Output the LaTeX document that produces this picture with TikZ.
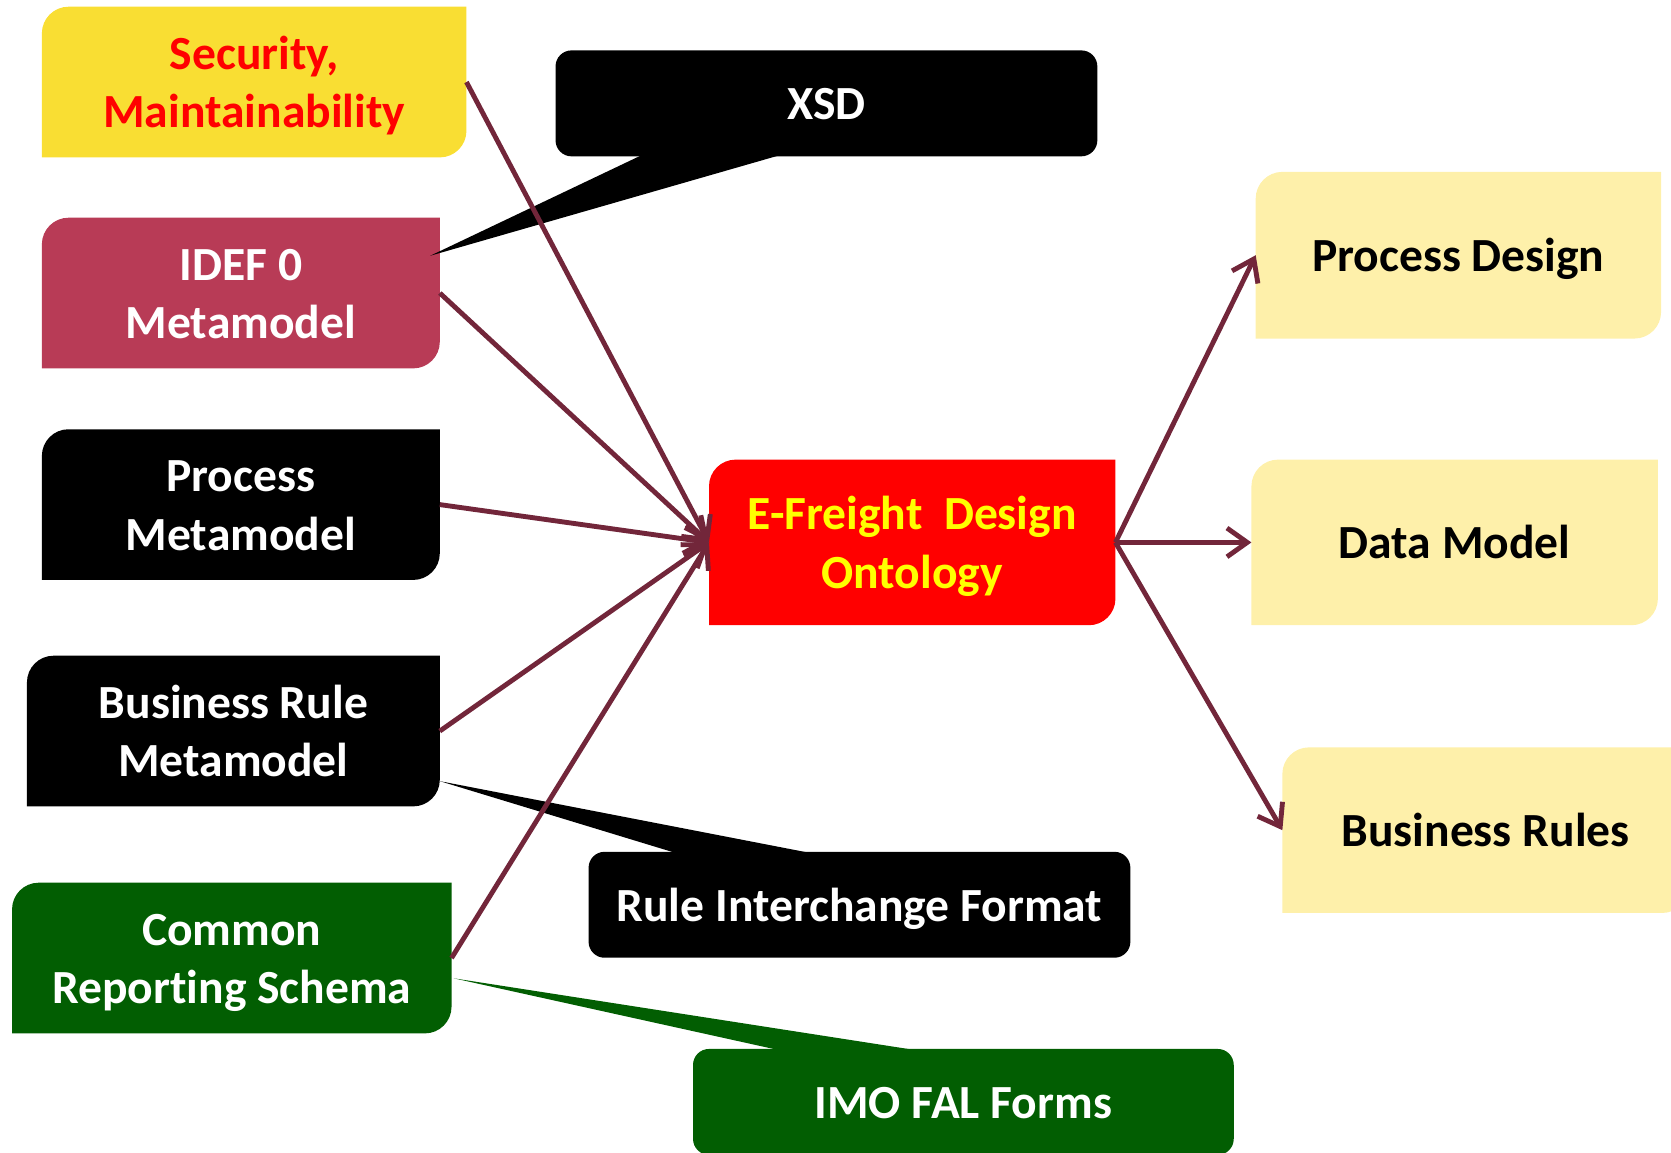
\documentclass[tikz,border=0pt]{standalone}
\usepackage{fontspec}
\setmainfont{Carlito}[Ligatures=NoCommon]
\usetikzlibrary{calc,arrows.meta,backgrounds}

\definecolor{secyellow}{RGB}{249,222,51}
\definecolor{idefred}{RGB}{184,59,86}
\definecolor{schemagreen}{RGB}{2,94,2}
\definecolor{paleyellow}{RGB}{254,240,170}
\definecolor{linkred}{RGB}{114,38,58}
\definecolor{ontored}{RGB}{255,0,0}
\definecolor{ontotext}{RGB}{255,255,0}

% fixed struts so every label is centred on its capitals
\newcommand\capstrut{\rule{0pt}{11.8pt}}
\newcommand\descstrut{\rule[-3pt]{0pt}{3pt}}

\tikzset{
  box/.style={inner sep=0pt, align=center,
    font=\fontsize{12.7pt}{15.6pt}\selectfont\bfseries},
  % rectangle with rounded top-left and bottom-right corners
  tlbr/.style={insert path={(#1.south west) -- ([yshift=-2.5mm]#1.north west)
      arc[start angle=180,end angle=90,radius=2.5mm] -- (#1.north east)
      -- ([yshift=2.5mm]#1.south east)
      arc[start angle=0,end angle=-90,radius=2.5mm] -- cycle}},
  link/.style={draw=linkred, line width=1.3pt,
    -{Straight Barb[length=1.9mm,width=2.7mm]}},
}

\begin{document}
\begin{tikzpicture}[x=0.1mm,y=0.1mm]
\useasboundingbox (0,0) rectangle (1568,1081);
\clip (0,0) rectangle (1568,1081);

% source boxes
\node[box, text=red, minimum width=39.7mm, minimum height=14mm] (sec) at (238.5,1004) {\capstrut Security,\\Maintainability\descstrut};
\node[box, text=white, minimum width=37.2mm, minimum height=14mm] (idef) at (226,806) {\capstrut IDEF 0\\Metamodel\descstrut};
\node[box, text=white, minimum width=37.2mm, minimum height=14mm] (proc) at (226,607.5) {\capstrut Process\\Metamodel\descstrut};
\node[box, text=white, minimum width=38.6mm, minimum height=14mm] (brm) at (219,395) {\capstrut Business Rule\\Metamodel\descstrut};
\node[box, text=white, minimum width=41.1mm, minimum height=14mm] (crs) at (217.5,182) {\capstrut Common\\Reporting Schema\descstrut};

% callouts
\node[box, text=white, minimum width=50.7mm, minimum height=9.8mm] (xsd) at (775.5,984) {\capstrut XSD\descstrut};
\node[box, text=white, minimum width=50.7mm, minimum height=9.8mm] (rif) at (806.5,232) {\capstrut Rule Interchange Format\descstrut};
\node[box, text=white, minimum width=50.6mm, minimum height=9.8mm] (imo) at (904,47) {\capstrut IMO FAL Forms\descstrut};

% central ontology
\node[box, text=ontotext, minimum width=38mm, minimum height=15.4mm] (onto) at (856,572) {\capstrut E-Freight\ \ Design\\Ontology\descstrut};

% results
\node[box, text=black, minimum width=37.9mm, minimum height=15.5mm] (pd) at (1368.5,841.5) {\capstrut Process Design\descstrut};
\node[box, text=black, minimum width=38mm, minimum height=15.4mm] (dm) at (1365,572) {\capstrut Data Model\descstrut};
\node[box, text=black, minimum width=38mm, minimum height=15.4mm] (bru) at (1394,302) {\capstrut Business Rules\descstrut};

% callout pointer tips
\coordinate (xsdtip) at ($(idef.east)+(-9,35)$);
\coordinate (riftip) at ($(brm.east)+(0,-47)$);
\coordinate (imotip) at ($(crs.east)+(2,-19)$);

\begin{scope}[on background layer]
  \fill[secyellow, tlbr=sec];
  \fill[idefred, tlbr=idef];
  \fill[black, tlbr=proc];
  \fill[black, tlbr=brm];
  \fill[schemagreen, tlbr=crs];
  \fill[ontored, tlbr=onto];
  \fill[paleyellow, tlbr=pd];
  \fill[paleyellow, tlbr=dm];
  \fill[paleyellow, tlbr=bru];
  \fill[black, rounded corners=1.5mm] (xsd.south west) rectangle (xsd.north east);
  \fill[black, rounded corners=1.5mm] (rif.south west) rectangle (rif.north east);
  \fill[schemagreen, rounded corners=1.5mm] (imo.south west) rectangle (imo.north east);
  \fill[black] ($(xsd.south)+(-171.5,2)$) -- (xsdtip) -- ($(xsd.south)+(-40.5,2)$) -- cycle;
  \fill[black] ($(rif.north)+(-169.5,-2)$) -- (riftip) -- ($(rif.north)+(-41.5,-2)$) -- cycle;
  \fill[schemagreen] ($(imo.north)+(-169,-2)$) -- (imotip) -- ($(imo.north)+(-39,-2)$) -- cycle;
\end{scope}

% inputs to the ontology
\draw[link] (sec.east) -- (onto.west);
\draw[link] (idef.east) -- (onto.west);
\draw[link] (proc.east) -- (onto.west);
\draw[link] (brm.east) -- (onto.west);
\draw[link] (crs.east) -- (onto.west);

% outputs of the ontology
\draw[link] (onto.east) -- (pd.west);
\draw[link] (onto.east) -- (dm.west);
\draw[link] (onto.east) -- (bru.west);
\end{tikzpicture}
\end{document}
